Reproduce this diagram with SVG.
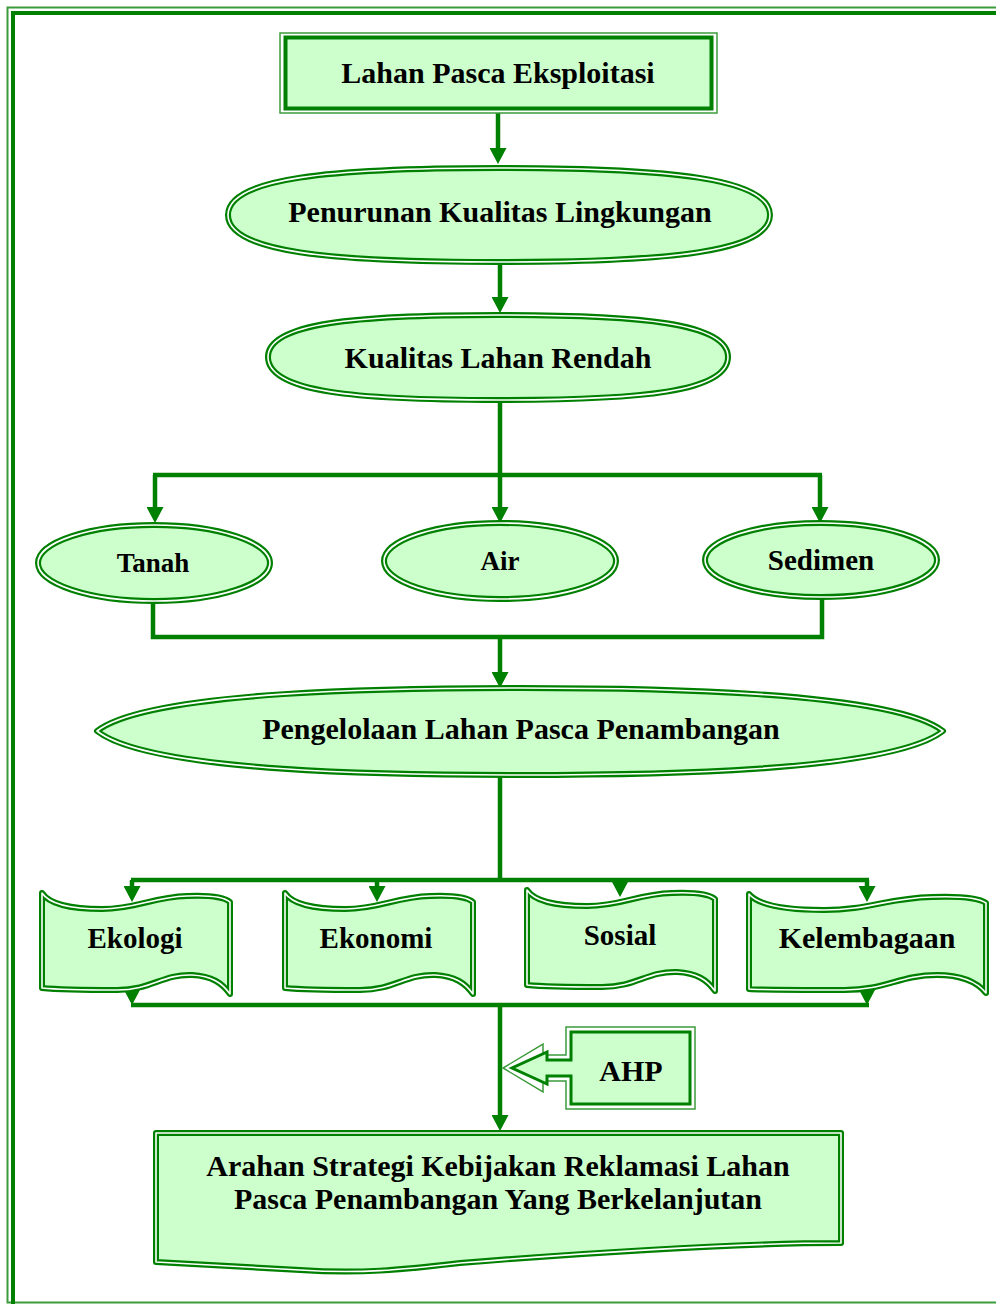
<svg xmlns="http://www.w3.org/2000/svg" width="996" height="1304" viewBox="0 0 996 1304">
<style>
.fr-o{fill:none;stroke:#3c9c3c;stroke-width:2}
.fr-i{fill:none;stroke:#008000;stroke-width:4}
.sh{fill:#CCFFCC;stroke:#008000;stroke-width:6;stroke-linejoin:round}
.gap{fill:none;stroke:#ffffff;stroke-width:1.6;stroke-linejoin:round}
.bo{fill:none;stroke:#3c9c3c;stroke-width:1.5}
.bi{fill:#CCFFCC;stroke:#008000;stroke-width:4}
.t{font-family:"Liberation Serif","Times New Roman",serif;font-weight:bold;font-size:30px;fill:#000;text-anchor:middle}
.c{fill:none;stroke:#008000;stroke-width:4.5}
.ca{fill:none;stroke:#008000;stroke-width:4.5;marker-end:url(#ah)}
</style>
<defs>
<marker id="ah" markerUnits="userSpaceOnUse" markerWidth="16" markerHeight="17" viewBox="0 0 16 17" refX="9" refY="8.5" orient="auto"><path d="M0,0 L16,8.5 L0,17 Z" fill="#008000"/></marker>
<path id="p2" d="M228,215 C228,178 330,168 499,168 C668,168 770,178 770,215 C770,252 668,262 499,262 C330,262 228,252 228,215 Z"/>
<path id="p3" d="M268,357 C268,323 355,315 498,315 C641,315 728,323 728,357 C728,392 641,400 498,400 C355,400 268,392 268,357 Z"/>
<path id="p6" d="M97,731 C150,690 400,688 520,688 C640,688 890,690 943,731 C890,773 640,775 520,775 C400,775 150,773 97,731 Z"/>
<path id="wv" d="M0,0 C8,12 30,16 60,16 C95,16 110,4 145,3 C168,2 182,4 188,9 L188,101 C180,90 170,83 150,82 C120,81 110,97 75,97 C40,97 10,96 0,95 Z"/>
<path id="wv2" d="M0,0 C10,12 38,16 75,16 C120,16 138,4 183,3 C212,2 230,4 237,9 L237,99 C228,88 214,81 188,81 C150,81 138,96 95,96 C50,96 10,96 0,95 Z"/>
<path id="pf" d="M156,1133 L841,1133 L841,1243 C720,1243 560,1255 460,1263 C400,1270 360,1274 300,1270 C230,1266 190,1264 156,1262 Z"/>
</defs>

<g id="frame">
<rect class="fr-o" x="7.5" y="7.5" width="1000" height="1295"/>
<rect class="fr-i" x="13" y="13" width="1000" height="1310"/>
</g>

<g id="connectors">
<line class="ca" x1="498" y1="113" x2="498" y2="157"/>
<line class="ca" x1="500" y1="262" x2="500" y2="306"/>
<line class="c" x1="500" y1="400" x2="500" y2="477"/>
<line class="c" x1="153" y1="475" x2="822" y2="475"/>
<line class="ca" x1="155" y1="475" x2="155" y2="516"/>
<line class="ca" x1="500" y1="475" x2="500" y2="516"/>
<line class="ca" x1="820" y1="475" x2="820" y2="516"/>
<path class="c" d="M153,600 V637 H822 V598"/>
<line class="ca" x1="500" y1="637" x2="500" y2="681"/>
<line class="c" x1="500" y1="775" x2="500" y2="882"/>
<line class="c" x1="131" y1="880" x2="869" y2="880"/>
<line class="ca" x1="132" y1="880" x2="132" y2="895"/>
<line class="ca" x1="377" y1="880" x2="377" y2="895"/>
<line class="ca" x1="620" y1="880" x2="620" y2="890"/>
<line class="ca" x1="867" y1="880" x2="867" y2="895"/>
<line class="ca" x1="132" y1="984" x2="132" y2="998"/>
<line class="ca" x1="867" y1="982" x2="867" y2="998"/>
<line class="c" x1="131" y1="1005" x2="869" y2="1005"/>
<line class="ca" x1="500" y1="1003" x2="500" y2="1124"/>
</g>

<g id="n1">
<rect class="bo" x="280" y="33" width="437" height="80"/>
<rect class="bi" x="285.5" y="37.5" width="426" height="71"/>
<text class="t" x="498" y="83">Lahan Pasca Eksploitasi</text>
</g>

<g id="n2">
<use href="#p2" class="sh"/><use href="#p2" class="gap"/>
<text class="t" x="500" y="222">Penurunan Kualitas Lingkungan</text>
</g>

<g id="n3">
<use href="#p3" class="sh"/><use href="#p3" class="gap"/>
<text class="t" x="498" y="368">Kualitas Lahan Rendah</text>
</g>

<g id="tanah">
<ellipse class="sh" cx="154" cy="563" rx="116" ry="38"/>
<ellipse class="gap" cx="154" cy="563" rx="116" ry="38"/>
<text class="t" x="153" y="572" style="font-size:27px">Tanah</text>
</g>

<g id="air">
<ellipse class="sh" cx="500" cy="561" rx="116" ry="38"/>
<ellipse class="gap" cx="500" cy="561" rx="116" ry="38"/>
<text class="t" x="500" y="570" style="font-size:27px">Air</text>
</g>

<g id="sedimen">
<ellipse class="sh" cx="821" cy="560" rx="116" ry="37"/>
<ellipse class="gap" cx="821" cy="560" rx="116" ry="37"/>
<text class="t" x="821" y="570" style="font-size:29px">Sedimen</text>
</g>

<g id="n6">
<use href="#p6" class="sh"/><use href="#p6" class="gap"/>
<text class="t" x="521" y="739">Pengelolaan Lahan Pasca Penambangan</text>
</g>

<g id="ekologi">
<g transform="translate(42,893)"><use href="#wv" class="sh"/><use href="#wv" class="gap"/></g>
<text class="t" x="135" y="948" style="font-size:29px">Ekologi</text>
</g>

<g id="ekonomi">
<g transform="translate(285,893)"><use href="#wv" class="sh"/><use href="#wv" class="gap"/></g>
<text class="t" x="376" y="948" style="font-size:29px">Ekonomi</text>
</g>

<g id="sosial">
<g transform="translate(527,890)"><use href="#wv" class="sh"/><use href="#wv" class="gap"/></g>
<text class="t" x="620" y="945" style="font-size:29px">Sosial</text>
</g>

<g id="kelembagaan">
<g transform="translate(749,894)"><use href="#wv2" class="sh"/><use href="#wv2" class="gap"/></g>
<text class="t" x="867" y="948">Kelembagaan</text>
</g>

<g id="ahp">
<path class="bo" d="M566,1027 H695 V1109 H566 V1081 H543 V1092 L503,1068 L543,1044 V1055 H566 Z"/>
<path class="bi" style="stroke-width:3" d="M571,1032 H690 V1104 H571 V1076 H547 V1084 L512,1068 L547,1052 V1060 H571 Z"/>
<text class="t" x="631" y="1081">AHP</text>
</g>

<g id="final">
<use href="#pf" class="sh"/><use href="#pf" class="gap"/>
<text class="t" x="498" y="1176">Arahan Strategi Kebijakan Reklamasi Lahan</text>
<text class="t" x="498" y="1209">Pasca Penambangan Yang Berkelanjutan</text>
</g>
</svg>
